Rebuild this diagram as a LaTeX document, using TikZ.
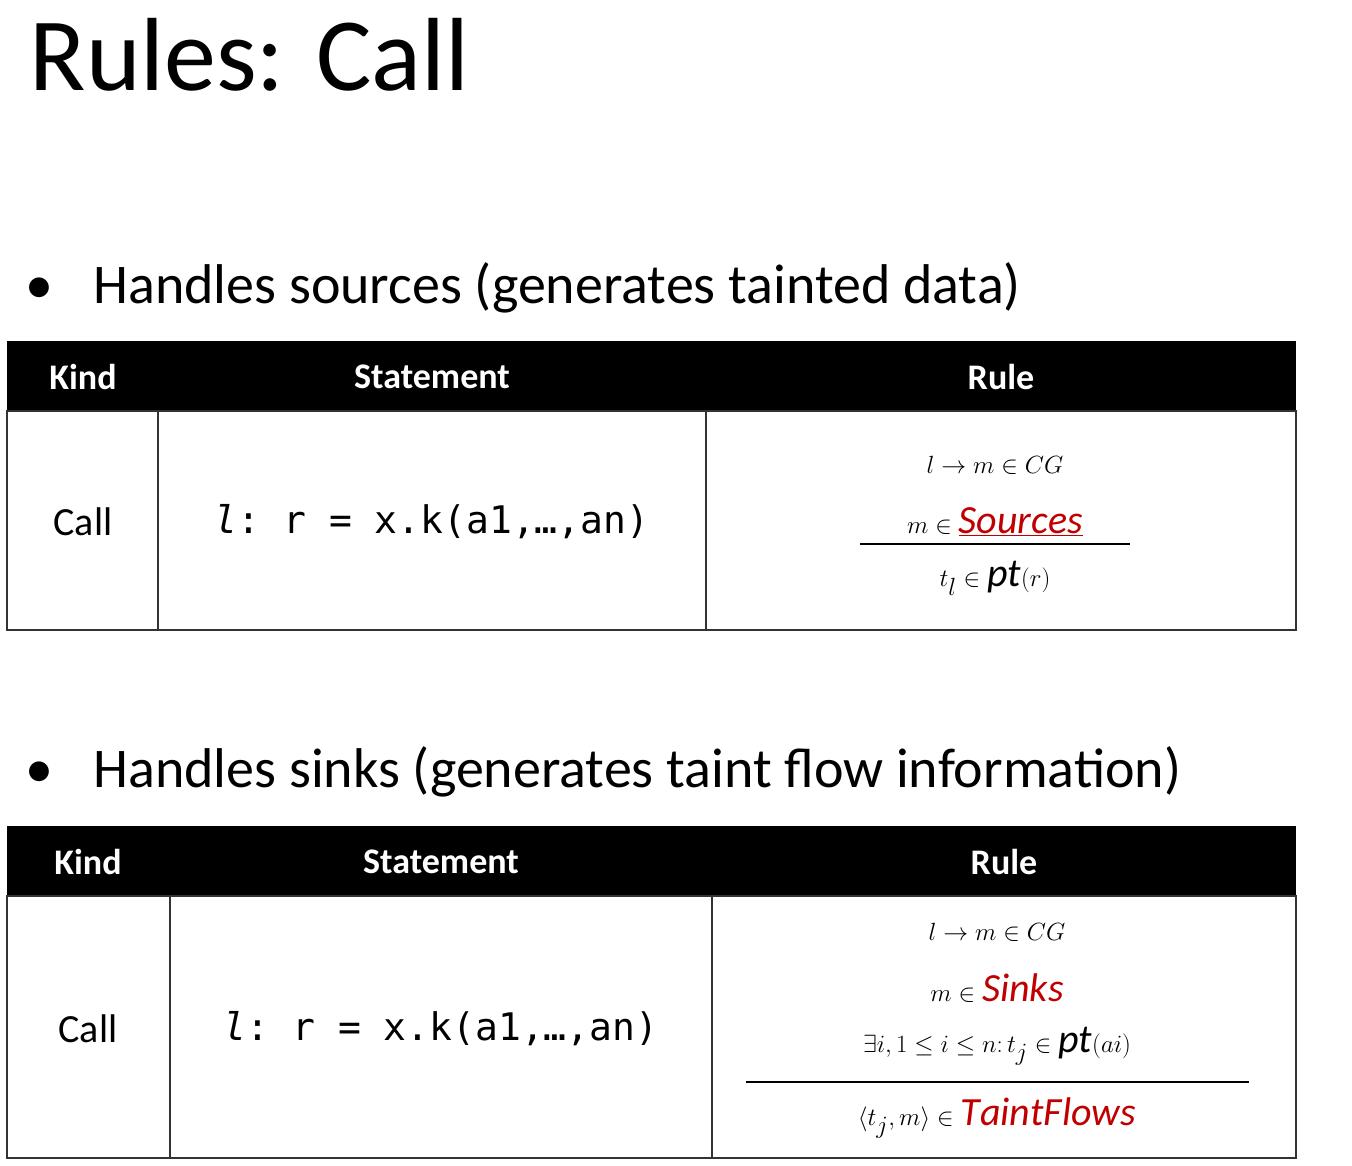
\documentclass[tikz,border=0pt]{standalone}
\usepackage{fontspec}
\setmainfont{Carlito}
\setmonofont{DejaVu Sans Mono}
\definecolor{myred}{RGB}{192,0,0}
\newcommand{\fs}[1]{\fontsize{#1}{#1}\selectfont}
\begin{document}
\begin{tikzpicture}[x=1pt,y=-1pt,
  hdr/.style={fill=black,draw=black},
  htxt/.style={text=white,font=\fs{36}\bfseries,anchor=center},
  ctxt/.style={font=\fs{40},anchor=center},
  mtxt/.style={font=\fs{40},anchor=center},
  rtxt/.style={font=\fs{40},anchor=center,inner sep=0pt},
  gline/.style={draw=black!80,line width=1.2pt}]
\useasboundingbox (0,0) rectangle (1352,1165);
\node[anchor=west,font=\fs{104}] (title) at (26,55) {Rules: Call};
\node[anchor=west,font=\fs{56}] (b1) at (22,288) {•\hspace{40pt}Handles sources (generates tainted data)};
\node[anchor=west,font=\fs{56}] (b2) at (22,772) {•\hspace{40pt}Handles sinks (generates taint flow information)};
% table 1
\fill[black] (7,341) rectangle (1296,411);
\draw[gline] (7,411) rectangle (1296,630);
\draw[gline] (158,411) -- (158,630);
\draw[gline] (706,411) -- (706,630);
\node[htxt] (k1) at (83,377) {Kind};
\node[htxt] (s1) at (432,377) {Statement};
\node[htxt] (r1) at (1001,377) {Rule};
\node[ctxt] (c1) at (83,522) {Call};
\node[mtxt] (st1) at (432,522) {\ttfamily\fs{38}\textit{l}: r = x.k(a1,…,an)};
\node[rtxt] (a1) at (995,465) {$l \to m \in CG$};
\node[rtxt] (a2) at (995,522) {$m \in \textcolor{myred}{\underline{\mathit{Sources}}}$};
\node[rtxt] (a3) at (995,578) {$t_l \in \mathit{pt}(r)$};
\draw[line width=1.8pt] (860,544) -- (1130,544);
% table 2
\fill[black] (7,826) rectangle (1296,896);
\draw[gline] (7,896) rectangle (1296,1158);
\draw[gline] (170,896) -- (170,1158);
\draw[gline] (712,896) -- (712,1158);
\node[htxt] (k2) at (88,862) {Kind};
\node[htxt] (s2) at (441,862) {Statement};
\node[htxt] (r2) at (1004,862) {Rule};
\node[ctxt] (c2) at (88,1029) {Call};
\node[mtxt] (st2) at (441,1029) {\ttfamily\fs{38}\textit{l}: r = x.k(a1,…,an)};
\node[rtxt] (b1r) at (997,932) {$l \to m \in CG$};
\node[rtxt] (b2r) at (997,988) {$m \in \textcolor{myred}{\mathit{Sinks}}$};
\node[rtxt] (b3r) at (997,1046) {$\exists i, 1 \leq i \leq n\colon t_j \in \mathit{pt}(ai)$};
\draw[line width=1.8pt] (746,1082) -- (1249,1082);
\node[rtxt] (b4r) at (997,1118) {$\langle t_j, m\rangle \in \textcolor{myred}{\mathit{TaintFlows}}$};
\end{tikzpicture}
\end{document}
